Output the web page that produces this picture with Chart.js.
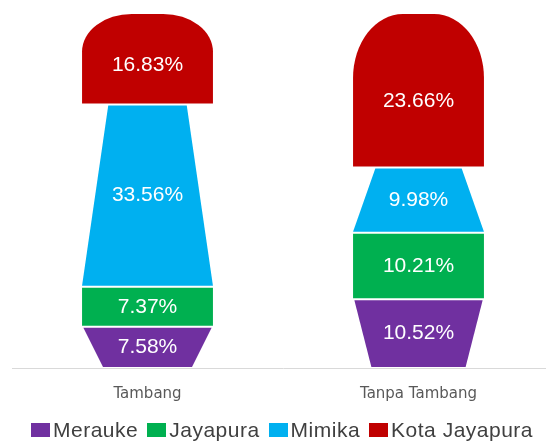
<!DOCTYPE html>
<html>
<head>
<meta charset="utf-8">
<script src="https://cdn.jsdelivr.net/npm/chart.js@4/dist/chart.umd.min.js"></script>
<style>
  body { margin: 0; background: #fff; overflow: hidden; width: 546px; height: 441px; }
  #wrap { position: absolute; left: 0; top: 0; width: 560px; height: 441px; }
  #legend {
    position: absolute; left: 31px; top: 418px;
    display: flex; font-family: "Liberation Sans", Arial, sans-serif;
    font-size: 21px; letter-spacing: 0.5px; color: #404040; line-height: 24px;
  }
  .item { display: flex; align-items: center; margin-right: 9px; white-space: nowrap; }
  .box { display: inline-block; width: 19px; height: 14px; margin-right: 3px; }
</style>
</head>
<body>
<div id="wrap"><canvas id="chart" width="560" height="441"></canvas></div>
<div id="legend"></div>
<script>
// Data (percent values per region)
const categories = ["Tambang", "Tanpa Tambang"];
const seriesNames = ["Merauke", "Jayapura", "Mimika", "Kota Jayapura"];
const merauke = [7.58, 10.52];
const jayapura = [7.37, 10.21];
const mimika = [33.56, 9.98];
const kotaJayapura = [16.83, 23.66];

const colors = ["#7030A0", "#00B050", "#00B0F0", "#C00000"];

// shape of each segment (insets are fractions of the bar width)
const shapes = [
  { type: "trap", top: [0.01, 0.01], bottom: [0.16, 0.14], shift: 0 },
  { type: "trap", top: [0, 0], bottom: [0, 0], shift: 0 },
  { type: "trap", top: [0.2, 0.17], bottom: [0, 0], shift: 0 },
  { type: "dome", shift: 0.07 }
];

const raw = [merauke, jayapura, mimika, kotaJayapura];
// every column is shown as 100% of its height
const totals = categories.map((c, i) => raw.reduce((s, arr) => s + arr[i], 0));
const share = (arr) => arr.map((v, i) => (v / totals[i]) * 100);

// draw the segments as trapezoids / dome using the bar geometry from Chart.js
const shapePlugin = {
  id: "shapes",
  afterDatasetsDraw(chart) {
    const ctx = chart.ctx;
    chart.data.datasets.forEach((ds, di) => {
      const meta = chart.getDatasetMeta(di);
      const st = shapes[di];
      meta.data.forEach((bar, i) => {
        const p = bar.getProps(["x", "y", "base", "width"], true);
        const w = p.width;
        const left = p.x - w / 2, right = p.x + w / 2;
        const top = p.y + 1, bottom = p.base - 1;
        const h = bottom - top;
        ctx.save();
        ctx.fillStyle = colors[di];
        ctx.beginPath();
        if (st.type === "dome") {
          const rx = 0.38 * w, ry = 0.42 * h;
          ctx.moveTo(left, bottom);
          ctx.lineTo(left, top + ry);
          ctx.ellipse(left + rx, top + ry, rx, ry, 0, Math.PI, 1.5 * Math.PI);
          ctx.lineTo(right - rx, top);
          ctx.ellipse(right - rx, top + ry, rx, ry, 0, 1.5 * Math.PI, 2 * Math.PI);
          ctx.lineTo(right, bottom);
        } else {
          const ti = st.top[i] * w, bi = st.bottom[i] * w;
          ctx.moveTo(left + ti, top);
          ctx.lineTo(right - ti, top);
          ctx.lineTo(right - bi, bottom);
          ctx.lineTo(left + bi, bottom);
        }
        ctx.closePath();
        ctx.fill();

        ctx.fillStyle = "#ffffff";
        ctx.font = '21px "Liberation Sans", Arial, sans-serif';
        ctx.textAlign = "center";
        ctx.textBaseline = "middle";
        ctx.fillText(raw[di][i].toFixed(2) + "%", p.x, (top + bottom) / 2 + st.shift * h);
        ctx.restore();
      });
    });
  }
};

new Chart(document.getElementById("chart"), {
  type: "bar",
  data: {
    labels: categories,
    datasets: raw.map((arr, di) => ({
      label: seriesNames[di],
      data: share(arr),
      backgroundColor: "rgba(0,0,0,0)",
      borderWidth: 0,
      categoryPercentage: 1,
      barPercentage: 0.483
    }))
  },
  options: {
    responsive: false,
    animation: false,
    layout: { padding: { left: 12, right: 6, top: 13, bottom: 29 } },
    plugins: { legend: { display: false }, tooltip: { enabled: false } },
    scales: {
      x: {
        stacked: true,
        grid: { display: false },
        border: { display: true, color: "#d9d9d9", width: 1 },
        ticks: {
          color: "#595959",
          padding: 9,
          font: { family: "DejaVu Sans", size: 15 }
        }
      },
      y: { stacked: true, min: 0, max: 100, display: false }
    }
  },
  plugins: [shapePlugin]
});

// legend in html, box right before the text like the original
const legend = document.getElementById("legend");
seriesNames.forEach((name, i) => {
  const item = document.createElement("span");
  item.className = "item";
  item.innerHTML = '<span class="box" style="background:' + colors[i] + '"></span>' + name;
  legend.appendChild(item);
});
</script>
</body>
</html>
